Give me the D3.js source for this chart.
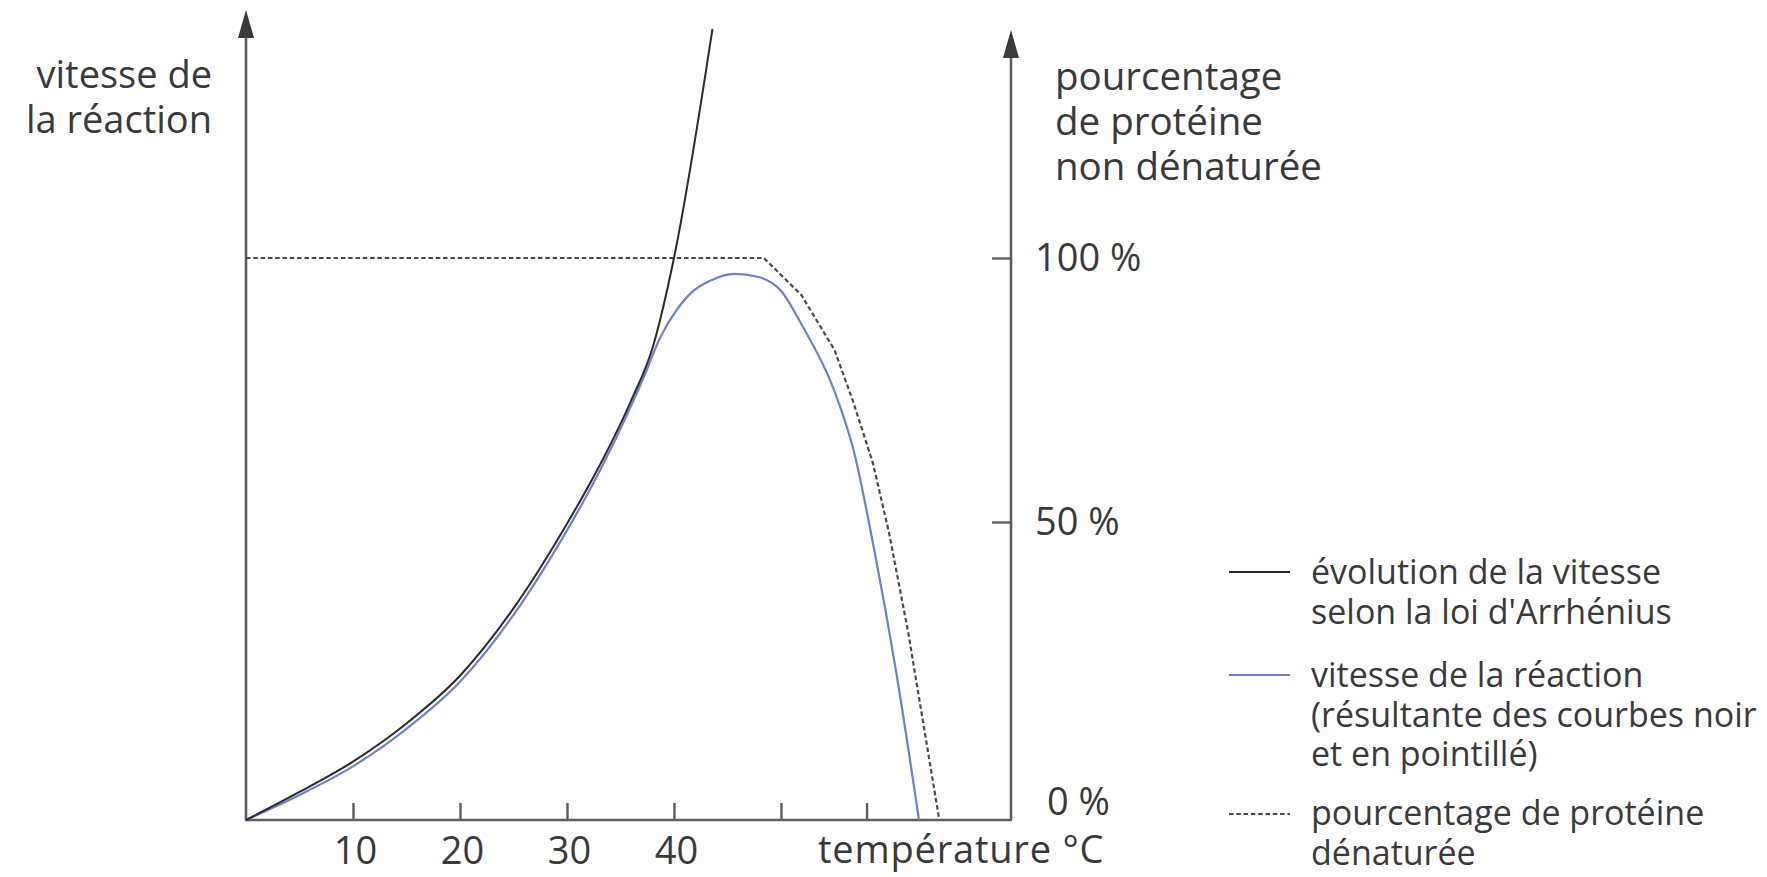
<!DOCTYPE html>
<html><head><meta charset="utf-8">
<script src="https://cdn.jsdelivr.net/npm/d3@7"></script>
<style>
body{margin:0;background:#fff;}
text{font-family:"Open Sans",sans-serif;fill:#3a3a3a;}
</style>
</head><body>
<svg id="c" width="1767" height="877"></svg>
<script>
// ---- data ----
const arrheniusT = [0, 5, 10, 15, 20, 25, 30, 33, 36, 38, 40, 43.6];
const arrheniusV = [0, 4.7, 9.8, 16.2, 24.2, 35.5, 49.7, 60.5, 73, 83, 100, 143.4];

const reactionT = [0, 5, 10, 15, 20, 25, 30, 33, 36, 37.4, 38.5, 39.4, 40.2, 41.6, 43.5, 45.6, 47.9, 50, 51.9, 55, 56.8, 58.7, 60.8, 62.9];
const reactionV = [0, 4.2, 9, 15.3, 23.2, 34.4, 48.6, 59.4, 72, 78.5, 84, 87.5, 90, 93.4, 95.8, 97, 96.4, 93.8, 87.5, 74.8, 63.5, 45.5, 24.5, 0];

const nativeT = [0, 48.4, 51.9, 55, 56.7, 58.6, 60.1, 61.9, 64.8];
const nativeV = [100, 100, 93, 82.6, 73.1, 61.1, 48.2, 31.4, 0];

const xTickValues = [10, 20, 30, 40, 50, 58];
const xTickLabels = ["10", "20", "30", "40", "", ""];
const yTickValues = [100, 50, 0];
const yTickLabels = ["100 %", "50 %", "0 %"];

const leftTitle = ["vitesse de", "la réaction"];
const rightTitle = ["pourcentage", "de protéine", "non dénaturée"];
const xTitle = "température °C";
const legendLabels = [
  ["évolution de la vitesse", "selon la loi d'Arrhénius"],
  ["vitesse de la réaction", "(résultante des courbes noir", "et en pointillé)"],
  ["pourcentage de protéine", "dénaturée"]
];

// ---- drawing ----
const svg = d3.select("#c");
const x = d3.scaleLinear().domain([0, 71.5]).range([246, 1011]);
const y = d3.scaleLinear().domain([0, 50, 100]).range([820, 522, 258]);

const axisColor = "#5e5e5e";
const styles = [
  {stroke: "#2b2b2b", width: 2, dash: null},
  {stroke: "#6f80d4", width: 2.2, dash: null},
  {stroke: "#4a4a4a", width: 2.2, dash: "4.5,2.8"}
];

// axes
const g = svg.append("g");
g.append("line").attr("x1", x(0)).attr("x2", x(0)).attr("y1", y(0)).attr("y2", 30)
  .attr("stroke", axisColor).attr("stroke-width", 2.6);
g.append("line").attr("x1", x.range()[1]).attr("x2", x.range()[1]).attr("y1", y(0)).attr("y2", 50)
  .attr("stroke", axisColor).attr("stroke-width", 2.6);
g.append("line").attr("x1", x(0) - 1).attr("x2", x.range()[1] + 1).attr("y1", y(0)).attr("y2", y(0))
  .attr("stroke", axisColor).attr("stroke-width", 2.6);

function arrow(cx, tipY) {
  g.append("path")
    .attr("d", `M${cx},${tipY} L${cx - 8},${tipY + 28} L${cx + 8},${tipY + 28} Z`)
    .attr("fill", "#3a3a3a");
}
arrow(x(0), 10);
arrow(x.range()[1], 30);

// x axis ticks (pointing up) + labels
const xAxis = d3.axisBottom(x).tickValues(xTickValues)
  .tickSize(-17).tickPadding(17)
  .tickFormat((d, i) => xTickLabels[i]);
const xg = svg.append("g").attr("transform", `translate(0,${y(0)})`).call(xAxis);
xg.select(".domain").remove();
xg.selectAll(".tick line").attr("stroke", axisColor).attr("stroke-width", 2.4);
xg.selectAll(".tick text").attr("font-size", 38).attr("font-family", "Open Sans")
  .attr("fill", "#3a3a3a").attr("dx", 2);

// right axis ticks (pointing left) + labels
const yAxis = d3.axisRight(y).tickValues(yTickValues)
  .tickSize(-19).tickPadding(24)
  .tickFormat((d, i) => yTickLabels[i]);
const yg = svg.append("g").attr("transform", `translate(${x.range()[1]},0)`).call(yAxis);
yg.select(".domain").remove();
yg.selectAll(".tick line").attr("stroke", axisColor).attr("stroke-width", 2.4)
  .filter(d => d === 0).remove();
yg.selectAll(".tick text").attr("font-size", 38).attr("font-family", "Open Sans")
  .attr("fill", "#3a3a3a");
yg.selectAll(".tick text").filter(d => d === 0).attr("dy", "-0.15em").attr("x", 36);

// curves
const line = d3.line().x(d => x(d[0])).y(d => y(d[1]));
const dotted = d3.zip(nativeT, nativeV);
const blue = d3.zip(reactionT, reactionV);
const black = d3.zip(arrheniusT, arrheniusV);

svg.append("path").datum(dotted).attr("d", line.curve(d3.curveLinear))
  .attr("fill", "none").attr("stroke", styles[2].stroke).attr("stroke-width", styles[2].width)
  .attr("stroke-dasharray", styles[2].dash);
svg.append("path").datum(blue).attr("d", line.curve(d3.curveMonotoneX))
  .attr("fill", "none").attr("stroke", styles[1].stroke).attr("stroke-width", styles[1].width);
svg.append("path").datum(black).attr("d", line.curve(d3.curveMonotoneX))
  .attr("fill", "none").attr("stroke", styles[0].stroke).attr("stroke-width", styles[0].width);

// titles
const lt = svg.append("text").attr("font-size", 38).attr("text-anchor", "end");
leftTitle.forEach((s, i) => lt.append("tspan").attr("x", 212).attr("y", 88 + i * 45).text(s));
const rt = svg.append("text").attr("font-size", 38.5);
rightTitle.forEach((s, i) => rt.append("tspan").attr("x", 1055).attr("y", 90 + i * 45).text(s));
svg.append("text").attr("font-size", 38).attr("x", 818).attr("y", 863)
  .attr("letter-spacing", 0.8).text(xTitle);

// legend
const legendSampleY = [572, 675, 814];
const legendTextY = [584, 687, 825];
legendLabels.forEach((lines, i) => {
  const st = styles[i];
  svg.append("line").attr("x1", 1229).attr("x2", 1290)
    .attr("y1", legendSampleY[i]).attr("y2", legendSampleY[i])
    .attr("stroke", st.stroke).attr("stroke-width", st.width)
    .attr("stroke-dasharray", st.dash);
  const t = svg.append("text").attr("font-size", 34);
  lines.forEach((s, j) => t.append("tspan").attr("x", 1311).attr("y", legendTextY[i] + j * 39.5).text(s));
});
</script>
</body></html>
